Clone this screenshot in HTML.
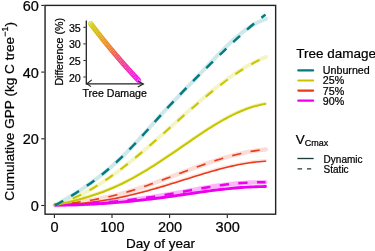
<!DOCTYPE html>
<html><head><meta charset="utf-8">
<style>
html,body{margin:0;padding:0;background:#fff;}
body{width:375px;height:251px;overflow:hidden;}
svg{display:block;will-change:transform;}
text{font-family:'Liberation Sans',sans-serif;fill:#000;stroke:#000;stroke-width:0.22px;}
</style></head>
<body>
<svg width="375" height="251" viewBox="0 0 375 251">
<rect width="375" height="251" fill="#fff"/>
<!-- ribbons -->
<circle cx="54.9" cy="205.3" r="2.1" fill="#f9b4ac"/>
<g fill="none" stroke-linecap="round" stroke-linejoin="round" stroke-width="3.9">
<path d="M55.0,205.03 L58.0,204.97 L61.0,204.89 L64.0,204.80 L67.0,204.70 L70.0,204.59 L73.0,204.47 L76.0,204.33 L79.0,204.18 L82.0,204.03 L85.0,203.86 L88.0,203.67 L91.0,203.48 L94.0,203.28 L97.0,203.06 L100.0,202.83 L103.0,202.59 L106.0,202.34 L109.0,202.07 L112.0,201.80 L115.0,201.51 L118.0,201.21 L121.0,200.90 L124.0,200.57 L127.0,200.23 L130.0,199.88 L133.0,199.52 L136.0,199.15 L139.0,198.77 L142.0,198.37 L145.0,197.96 L148.0,197.54 L151.0,197.10 L154.0,196.65 L157.0,196.19 L160.0,195.72 L163.0,195.24 L166.0,194.74 L169.0,194.23 L172.0,193.71 L175.0,193.18 L178.0,192.64 L181.0,192.09 L184.0,191.54 L187.0,190.98 L190.0,190.43 L193.0,189.87 L196.0,189.33 L199.0,188.78 L202.0,188.25 L205.0,187.73 L208.0,187.22 L211.0,186.73 L214.0,186.25 L217.0,185.79 L220.0,185.36 L223.0,184.95 L226.0,184.56 L229.0,184.21 L232.0,183.88 L235.0,183.58 L238.0,183.31 L241.0,183.07 L244.0,182.86 L247.0,182.68 L250.0,182.53 L253.0,182.41 L256.0,182.33 L259.0,182.27 L262.0,182.25 L265.0,182.27 L265.5,182.27" stroke="#fbb6fb" stroke-width="4.4"/>
<path d="M55.0,204.97 L58.0,204.64 L61.0,204.31 L64.0,203.96 L67.0,203.60 L70.0,203.23 L73.0,202.85 L76.0,202.45 L79.0,202.04 L82.0,201.60 L85.0,201.15 L88.0,200.68 L91.0,200.19 L94.0,199.67 L97.0,199.12 L100.0,198.55 L103.0,197.96 L106.0,197.33 L109.0,196.67 L112.0,195.99 L115.0,195.26 L118.0,194.51 L121.0,193.71 L124.0,192.88 L127.0,192.02 L130.0,191.12 L133.0,190.20 L136.0,189.24 L139.0,188.26 L142.0,187.26 L145.0,186.23 L148.0,185.18 L151.0,184.12 L154.0,183.04 L157.0,181.94 L160.0,180.83 L163.0,179.71 L166.0,178.59 L169.0,177.46 L172.0,176.32 L175.0,175.18 L178.0,174.05 L181.0,172.91 L184.0,171.78 L187.0,170.65 L190.0,169.53 L193.0,168.43 L196.0,167.33 L199.0,166.24 L202.0,165.17 L205.0,164.12 L208.0,163.08 L211.0,162.07 L214.0,161.08 L217.0,160.11 L220.0,159.17 L223.0,158.26 L226.0,157.38 L229.0,156.53 L232.0,155.71 L235.0,154.93 L238.0,154.18 L241.0,153.48 L244.0,152.82 L247.0,152.20 L250.0,151.62 L253.0,151.09 L256.0,150.62 L259.0,150.19 L262.0,149.81 L265.0,149.49 L266.0,149.40" stroke="#fcdcd6" stroke-width="4.3"/>
<path d="M55.0,204.99 L58.0,204.89 L61.0,204.76 L64.0,204.61 L67.0,204.44 L70.0,204.25 L73.0,204.03 L76.0,203.79 L79.0,203.53 L82.0,203.24 L85.0,202.93 L88.0,202.59 L91.0,202.23 L94.0,201.85 L97.0,201.44 L100.0,201.00 L103.0,200.54 L106.0,200.06 L109.0,199.55 L112.0,199.01 L115.0,198.45 L118.0,197.86 L121.0,197.25 L124.0,196.61 L127.0,195.94 L130.0,195.25 L133.0,194.54 L136.0,193.81 L139.0,193.05 L142.0,192.28 L145.0,191.48 L148.0,190.67 L151.0,189.84 L154.0,188.99 L157.0,188.13 L160.0,187.25 L163.0,186.36 L166.0,185.46 L169.0,184.54 L172.0,183.61 L175.0,182.68 L178.0,181.74 L181.0,180.79 L184.0,179.84 L187.0,178.89 L190.0,177.95 L193.0,177.00 L196.0,176.07 L199.0,175.14 L202.0,174.22 L205.0,173.32 L208.0,172.43 L211.0,171.55 L214.0,170.70 L217.0,169.87 L220.0,169.06 L223.0,168.28 L226.0,167.52 L229.0,166.80 L232.0,166.11 L235.0,165.45 L238.0,164.83 L241.0,164.25 L244.0,163.71 L247.0,163.21 L250.0,162.76 L253.0,162.36 L256.0,162.01 L259.0,161.71 L262.0,161.46 L265.0,161.27 L265.5,161.24" stroke="#fde3de" stroke-width="2.6" transform="translate(0,-0.9)"/>
<path d="M55.0,204.47 L58.0,203.66 L61.0,202.77 L64.0,201.78 L67.0,200.71 L70.0,199.55 L73.0,198.31 L76.0,196.99 L79.0,195.59 L82.0,194.12 L85.0,192.57 L88.0,190.95 L91.0,189.26 L94.0,187.51 L97.0,185.69 L100.0,183.81 L103.0,181.86 L106.0,179.86 L109.0,177.81 L112.0,175.70 L115.0,173.54 L118.0,171.33 L121.0,169.07 L124.0,166.77 L127.0,164.43 L130.0,162.05 L133.0,159.63 L136.0,157.17 L139.0,154.69 L142.0,152.17 L145.0,149.62 L148.0,147.05 L151.0,144.45 L154.0,141.83 L157.0,139.19 L160.0,136.53 L163.0,133.86 L166.0,131.17 L169.0,128.48 L172.0,125.78 L175.0,123.08 L178.0,120.39 L181.0,117.69 L184.0,115.01 L187.0,112.33 L190.0,109.67 L193.0,107.03 L196.0,104.41 L199.0,101.81 L202.0,99.24 L205.0,96.70 L208.0,94.19 L211.0,91.72 L214.0,89.30 L217.0,86.91 L220.0,84.58 L223.0,82.29 L226.0,80.06 L229.0,77.88 L232.0,75.77 L235.0,73.72 L238.0,71.73 L241.0,69.82 L244.0,67.98 L247.0,66.21 L250.0,64.53 L253.0,62.93 L256.0,61.41 L259.0,59.99 L262.0,58.65 L265.0,57.42 L266.0,57.03" stroke="#f5f5c4"/>
<path d="M55.0,204.98 L58.0,204.39 L61.0,203.78 L64.0,203.14 L67.0,202.48 L70.0,201.79 L73.0,201.07 L76.0,200.32 L79.0,199.53 L82.0,198.71 L85.0,197.86 L88.0,196.97 L91.0,196.04 L94.0,195.07 L97.0,194.06 L100.0,193.00 L103.0,191.90 L106.0,190.75 L109.0,189.55 L112.0,188.30 L115.0,187.00 L118.0,185.65 L121.0,184.24 L124.0,182.77 L127.0,181.25 L130.0,179.68 L133.0,178.07 L136.0,176.40 L139.0,174.69 L142.0,172.94 L145.0,171.15 L148.0,169.32 L151.0,167.46 L154.0,165.57 L157.0,163.65 L160.0,161.69 L163.0,159.72 L166.0,157.72 L169.0,155.70 L172.0,153.66 L175.0,151.60 L178.0,149.54 L181.0,147.47 L184.0,145.39 L187.0,143.32 L190.0,141.26 L193.0,139.20 L196.0,137.16 L199.0,135.14 L202.0,133.15 L205.0,131.18 L208.0,129.24 L211.0,127.34 L214.0,125.47 L217.0,123.66 L220.0,121.89 L223.0,120.17 L226.0,118.51 L229.0,116.91 L232.0,115.38 L235.0,113.91 L238.0,112.53 L241.0,111.21 L244.0,109.98 L247.0,108.84 L250.0,107.79 L253.0,106.83 L256.0,105.97 L259.0,105.22 L262.0,104.57 L265.0,104.04 L265.3,103.99" stroke="#f3f3b8" stroke-width="2.6" transform="translate(0,-0.9)"/>
<path d="M55.0,205.43 L58.0,203.73 L61.0,202.01 L64.0,200.26 L67.0,198.49 L70.0,196.68 L73.0,194.84 L76.0,192.96 L79.0,191.03 L82.0,189.06 L85.0,187.05 L88.0,184.98 L91.0,182.85 L94.0,180.67 L97.0,178.42 L100.0,176.11 L103.0,173.74 L106.0,171.29 L109.0,168.76 L112.0,166.16 L115.0,163.48 L118.0,160.72 L121.0,157.89 L124.0,154.99 L127.0,152.01 L130.0,148.97 L133.0,145.86 L136.0,142.68 L139.0,139.44 L142.0,136.14 L145.0,132.79 L148.0,129.41 L151.0,126.01 L154.0,122.61 L157.0,119.24 L160.0,115.90 L163.0,112.62 L166.0,109.38 L169.0,106.19 L172.0,103.03 L175.0,99.89 L178.0,96.78 L181.0,93.68 L184.0,90.58 L187.0,87.48 L190.0,84.38 L193.0,81.25 L196.0,78.11 L199.0,74.94 L202.0,71.75 L205.0,68.56 L208.0,65.37 L211.0,62.20 L214.0,59.05 L217.0,55.94 L220.0,52.87 L223.0,49.85 L226.0,46.89 L229.0,44.01 L232.0,41.22 L235.0,38.52 L238.0,35.93 L241.0,33.46 L244.0,31.12 L247.0,28.92 L250.0,26.88 L253.0,25.00 L256.0,23.29 L259.0,21.76 L262.0,20.42 L265.0,19.26 L266.0,18.92" stroke="#cfe8ea"/>
</g>
<!-- lines -->
<g fill="none" stroke-linejoin="round">
<path d="M55.0,204.99 L58.0,204.89 L61.0,204.76 L64.0,204.61 L67.0,204.44 L70.0,204.25 L73.0,204.03 L76.0,203.79 L79.0,203.53 L82.0,203.24 L85.0,202.93 L88.0,202.59 L91.0,202.23 L94.0,201.85 L97.0,201.44 L100.0,201.00 L103.0,200.54 L106.0,200.06 L109.0,199.55 L112.0,199.01 L115.0,198.45 L118.0,197.86 L121.0,197.25 L124.0,196.61 L127.0,195.94 L130.0,195.25 L133.0,194.54 L136.0,193.81 L139.0,193.05 L142.0,192.28 L145.0,191.48 L148.0,190.67 L151.0,189.84 L154.0,188.99 L157.0,188.13 L160.0,187.25 L163.0,186.36 L166.0,185.46 L169.0,184.54 L172.0,183.61 L175.0,182.68 L178.0,181.74 L181.0,180.79 L184.0,179.84 L187.0,178.89 L190.0,177.95 L193.0,177.00 L196.0,176.07 L199.0,175.14 L202.0,174.22 L205.0,173.32 L208.0,172.43 L211.0,171.55 L214.0,170.70 L217.0,169.87 L220.0,169.06 L223.0,168.28 L226.0,167.52 L229.0,166.80 L232.0,166.11 L235.0,165.45 L238.0,164.83 L241.0,164.25 L244.0,163.71 L247.0,163.21 L250.0,162.76 L253.0,162.36 L256.0,162.01 L259.0,161.71 L262.0,161.46 L265.0,161.27 L265.5,161.24" stroke="#ea3a1a" stroke-width="1.6" stroke-linecap="round"/>
<path d="M55.0,204.97 L58.0,204.64 L61.0,204.31 L64.0,203.96 L67.0,203.60 L70.0,203.23 L73.0,202.85 L76.0,202.45 L79.0,202.04 L82.0,201.60 L85.0,201.15 L88.0,200.68 L91.0,200.19 L94.0,199.67 L97.0,199.12 L100.0,198.55 L103.0,197.96 L106.0,197.33 L109.0,196.67 L112.0,195.99 L115.0,195.26 L118.0,194.51 L121.0,193.71 L124.0,192.88 L127.0,192.02 L130.0,191.12 L133.0,190.20 L136.0,189.24 L139.0,188.26 L142.0,187.26 L145.0,186.23 L148.0,185.18 L151.0,184.12 L154.0,183.04 L157.0,181.94 L160.0,180.83 L163.0,179.71 L166.0,178.59 L169.0,177.46 L172.0,176.32 L175.0,175.18 L178.0,174.05 L181.0,172.91 L184.0,171.78 L187.0,170.65 L190.0,169.53 L193.0,168.43 L196.0,167.33 L199.0,166.24 L202.0,165.17 L205.0,164.12 L208.0,163.08 L211.0,162.07 L214.0,161.08 L217.0,160.11 L220.0,159.17 L223.0,158.26 L226.0,157.38 L229.0,156.53 L232.0,155.71 L235.0,154.93 L238.0,154.18 L241.0,153.48 L244.0,152.82 L247.0,152.20 L250.0,151.62 L253.0,151.09 L256.0,150.62 L259.0,150.19 L262.0,149.81 L265.0,149.49 L266.0,149.40" stroke="#ea3a1a" stroke-width="1.6" stroke-dasharray="9.3 9.38" stroke-dashoffset="2.1"/>
<path d="M55.0,205.00 L58.0,205.00 L61.0,204.98 L64.0,204.95 L67.0,204.91 L70.0,204.86 L73.0,204.79 L76.0,204.71 L79.0,204.62 L82.0,204.51 L85.0,204.40 L88.0,204.27 L91.0,204.13 L94.0,203.97 L97.0,203.81 L100.0,203.63 L103.0,203.44 L106.0,203.24 L109.0,203.03 L112.0,202.81 L115.0,202.58 L118.0,202.33 L121.0,202.08 L124.0,201.82 L127.0,201.54 L130.0,201.25 L133.0,200.96 L136.0,200.65 L139.0,200.34 L142.0,200.01 L145.0,199.68 L148.0,199.33 L151.0,198.98 L154.0,198.61 L157.0,198.24 L160.0,197.86 L163.0,197.47 L166.0,197.07 L169.0,196.66 L172.0,196.24 L175.0,195.82 L178.0,195.39 L181.0,194.95 L184.0,194.52 L187.0,194.08 L190.0,193.64 L193.0,193.20 L196.0,192.76 L199.0,192.33 L202.0,191.91 L205.0,191.49 L208.0,191.08 L211.0,190.68 L214.0,190.29 L217.0,189.92 L220.0,189.55 L223.0,189.21 L226.0,188.88 L229.0,188.57 L232.0,188.28 L235.0,188.01 L238.0,187.76 L241.0,187.53 L244.0,187.33 L247.0,187.15 L250.0,186.99 L253.0,186.85 L256.0,186.74 L259.0,186.66 L262.0,186.60 L265.0,186.57 L265.5,186.57" stroke="#ee00ee" stroke-width="2.9" stroke-linecap="round"/>
<path d="M55.0,205.03 L58.0,204.97 L61.0,204.89 L64.0,204.80 L67.0,204.70 L70.0,204.59 L73.0,204.47 L76.0,204.33 L79.0,204.18 L82.0,204.03 L85.0,203.86 L88.0,203.67 L91.0,203.48 L94.0,203.28 L97.0,203.06 L100.0,202.83 L103.0,202.59 L106.0,202.34 L109.0,202.07 L112.0,201.80 L115.0,201.51 L118.0,201.21 L121.0,200.90 L124.0,200.57 L127.0,200.23 L130.0,199.88 L133.0,199.52 L136.0,199.15 L139.0,198.77 L142.0,198.37 L145.0,197.96 L148.0,197.54 L151.0,197.10 L154.0,196.65 L157.0,196.19 L160.0,195.72 L163.0,195.24 L166.0,194.74 L169.0,194.23 L172.0,193.71 L175.0,193.18 L178.0,192.64 L181.0,192.09 L184.0,191.54 L187.0,190.98 L190.0,190.43 L193.0,189.87 L196.0,189.33 L199.0,188.78 L202.0,188.25 L205.0,187.73 L208.0,187.22 L211.0,186.73 L214.0,186.25 L217.0,185.79 L220.0,185.36 L223.0,184.95 L226.0,184.56 L229.0,184.21 L232.0,183.88 L235.0,183.58 L238.0,183.31 L241.0,183.07 L244.0,182.86 L247.0,182.68 L250.0,182.53 L253.0,182.41 L256.0,182.33 L259.0,182.27 L262.0,182.25 L265.0,182.27 L265.5,182.27" stroke="#ee00ee" stroke-width="2.4" stroke-dasharray="9.3 9.38" stroke-dashoffset="2.0"/>
<path d="M55.0,204.98 L58.0,204.39 L61.0,203.78 L64.0,203.14 L67.0,202.48 L70.0,201.79 L73.0,201.07 L76.0,200.32 L79.0,199.53 L82.0,198.71 L85.0,197.86 L88.0,196.97 L91.0,196.04 L94.0,195.07 L97.0,194.06 L100.0,193.00 L103.0,191.90 L106.0,190.75 L109.0,189.55 L112.0,188.30 L115.0,187.00 L118.0,185.65 L121.0,184.24 L124.0,182.77 L127.0,181.25 L130.0,179.68 L133.0,178.07 L136.0,176.40 L139.0,174.69 L142.0,172.94 L145.0,171.15 L148.0,169.32 L151.0,167.46 L154.0,165.57 L157.0,163.65 L160.0,161.69 L163.0,159.72 L166.0,157.72 L169.0,155.70 L172.0,153.66 L175.0,151.60 L178.0,149.54 L181.0,147.47 L184.0,145.39 L187.0,143.32 L190.0,141.26 L193.0,139.20 L196.0,137.16 L199.0,135.14 L202.0,133.15 L205.0,131.18 L208.0,129.24 L211.0,127.34 L214.0,125.47 L217.0,123.66 L220.0,121.89 L223.0,120.17 L226.0,118.51 L229.0,116.91 L232.0,115.38 L235.0,113.91 L238.0,112.53 L241.0,111.21 L244.0,109.98 L247.0,108.84 L250.0,107.79 L253.0,106.83 L256.0,105.97 L259.0,105.22 L262.0,104.57 L265.0,104.04 L265.3,103.99" stroke="#c6c600" stroke-width="2.1" stroke-linecap="round"/>
<path d="M55.0,204.41 L58.0,203.64 L61.0,202.76 L64.0,201.79 L67.0,200.74 L70.0,199.59 L73.0,198.36 L76.0,197.04 L79.0,195.65 L82.0,194.17 L85.0,192.62 L88.0,191.00 L91.0,189.30 L94.0,187.54 L97.0,185.71 L100.0,183.82 L103.0,181.87 L106.0,179.86 L109.0,177.79 L112.0,175.67 L115.0,173.50 L118.0,171.28 L121.0,169.02 L124.0,166.71 L127.0,164.36 L130.0,161.98 L133.0,159.56 L136.0,157.10 L139.0,154.61 L142.0,152.10 L145.0,149.56 L148.0,146.99 L151.0,144.41 L154.0,141.81 L157.0,139.19 L160.0,136.55 L163.0,133.91 L166.0,131.26 L169.0,128.60 L172.0,125.94 L175.0,123.29 L178.0,120.63 L181.0,117.98 L184.0,115.34 L187.0,112.71 L190.0,110.09 L193.0,107.49 L196.0,104.91 L199.0,102.35 L202.0,99.82 L205.0,97.31 L208.0,94.84 L211.0,92.40 L214.0,89.99 L217.0,87.63 L220.0,85.30 L223.0,83.02 L226.0,80.79 L229.0,78.60 L232.0,76.47 L235.0,74.40 L238.0,72.38 L241.0,70.43 L244.0,68.53 L247.0,66.71 L250.0,64.95 L253.0,63.27 L256.0,61.66 L259.0,60.12 L262.0,58.67 L265.0,57.30 L266.0,56.87" stroke="#c6c600" stroke-width="2.05" stroke-dasharray="9.3 9.38"/>
<path d="M55.0,205.41 L58.0,203.71 L61.0,202.00 L64.0,200.25 L67.0,198.49 L70.0,196.68 L73.0,194.85 L76.0,192.97 L79.0,191.05 L82.0,189.09 L85.0,187.08 L88.0,185.01 L91.0,182.89 L94.0,180.71 L97.0,178.46 L100.0,176.14 L103.0,173.76 L106.0,171.30 L109.0,168.76 L112.0,166.14 L115.0,163.44 L118.0,160.67 L121.0,157.82 L124.0,154.90 L127.0,151.91 L130.0,148.86 L133.0,145.75 L136.0,142.59 L139.0,139.37 L142.0,136.10 L145.0,132.80 L148.0,129.46 L151.0,126.11 L154.0,122.76 L157.0,119.41 L160.0,116.08 L163.0,112.78 L166.0,109.50 L169.0,106.26 L172.0,103.04 L175.0,99.85 L178.0,96.69 L181.0,93.55 L184.0,90.44 L187.0,87.35 L190.0,84.28 L193.0,81.23 L196.0,78.21 L199.0,75.20 L202.0,72.22 L205.0,69.25 L208.0,66.30 L211.0,63.36 L214.0,60.44 L217.0,57.54 L220.0,54.65 L223.0,51.77 L226.0,48.91 L229.0,46.06 L232.0,43.24 L235.0,40.44 L238.0,37.67 L241.0,34.94 L244.0,32.25 L247.0,29.61 L250.0,27.01 L253.0,24.48 L256.0,22.00 L259.0,19.59 L262.0,17.25 L265.0,14.98 L265.5,14.61" stroke="#007b82" stroke-width="2.45" stroke-dasharray="9.3 9.38"/>
</g>
<!-- panel border -->
<rect x="45.05" y="5.4" width="230.6" height="208.8" fill="none" stroke="#222" stroke-width="1.4"/>
<!-- ticks -->
<g stroke="#222" stroke-width="1.1">
<line x1="41.3" x2="44.4" y1="5.4" y2="5.4"/>
<line x1="41.3" x2="44.4" y1="72.1" y2="72.1"/>
<line x1="41.3" x2="44.4" y1="138.8" y2="138.8"/>
<line x1="41.3" x2="44.4" y1="205.5" y2="205.5"/>
<line y1="214.9" y2="217.9" x1="54.4" x2="54.4"/>
<line y1="214.9" y2="217.9" x1="112" x2="112"/>
<line y1="214.9" y2="217.9" x1="169.6" x2="169.6"/>
<line y1="214.9" y2="217.9" x1="227.3" x2="227.3"/>
</g>
<g font-size="14.5" text-anchor="end">
<text x="38.9" y="11.0">60</text>
<text x="38.9" y="77.7">40</text>
<text x="38.9" y="144.4">20</text>
<text x="38.9" y="211.1">0</text>
</g>
<g font-size="14.5" text-anchor="middle">
<text x="54.6" y="231.8">0</text>
<text x="112.4" y="231.8">100</text>
<text x="170" y="231.8">200</text>
<text x="227.7" y="231.8">300</text>
</g>
<text x="160.6" y="247.6" font-size="13.5" text-anchor="middle">Day of year</text>
<text transform="translate(14.3,200.7) rotate(-90)" font-size="13.62">Cumulative GPP (kg C tree<tspan font-size="9" dy="-6.0">−1</tspan><tspan dy="6.0">)</tspan></text>

<!-- inset -->
<g>
<circle cx="90.80" cy="23.80" r="2.35" fill="#cdcd00" fill-opacity="0.3" stroke="#cdcd00" stroke-opacity="0.85" stroke-width="0.9"/>
<circle cx="91.94" cy="25.31" r="2.35" fill="#cfc900" fill-opacity="0.3" stroke="#cfc900" stroke-opacity="0.85" stroke-width="0.9"/>
<circle cx="93.09" cy="26.82" r="2.35" fill="#d1c500" fill-opacity="0.3" stroke="#d1c500" stroke-opacity="0.85" stroke-width="0.9"/>
<circle cx="94.24" cy="28.32" r="2.35" fill="#d3c100" fill-opacity="0.3" stroke="#d3c100" stroke-opacity="0.85" stroke-width="0.9"/>
<circle cx="95.40" cy="29.82" r="2.35" fill="#d5bd00" fill-opacity="0.3" stroke="#d5bd00" stroke-opacity="0.85" stroke-width="0.9"/>
<circle cx="96.56" cy="31.32" r="2.35" fill="#d6b900" fill-opacity="0.3" stroke="#d6b900" stroke-opacity="0.85" stroke-width="0.9"/>
<circle cx="97.73" cy="32.81" r="2.35" fill="#d8b500" fill-opacity="0.3" stroke="#d8b500" stroke-opacity="0.85" stroke-width="0.9"/>
<circle cx="98.89" cy="34.30" r="2.35" fill="#dbaf03" fill-opacity="0.3" stroke="#dbaf03" stroke-opacity="0.85" stroke-width="0.9"/>
<circle cx="100.07" cy="35.79" r="2.35" fill="#dea906" fill-opacity="0.3" stroke="#dea906" stroke-opacity="0.85" stroke-width="0.9"/>
<circle cx="101.24" cy="37.27" r="2.35" fill="#e1a309" fill-opacity="0.3" stroke="#e1a309" stroke-opacity="0.85" stroke-width="0.9"/>
<circle cx="102.42" cy="38.75" r="2.35" fill="#e39c0b" fill-opacity="0.3" stroke="#e39c0b" stroke-opacity="0.85" stroke-width="0.9"/>
<circle cx="103.61" cy="40.23" r="2.35" fill="#e6960e" fill-opacity="0.3" stroke="#e6960e" stroke-opacity="0.85" stroke-width="0.9"/>
<circle cx="104.80" cy="41.70" r="2.35" fill="#e89011" fill-opacity="0.3" stroke="#e89011" stroke-opacity="0.85" stroke-width="0.9"/>
<circle cx="105.99" cy="43.17" r="2.35" fill="#e98a14" fill-opacity="0.3" stroke="#e98a14" stroke-opacity="0.85" stroke-width="0.9"/>
<circle cx="107.18" cy="44.64" r="2.35" fill="#ea8518" fill-opacity="0.3" stroke="#ea8518" stroke-opacity="0.85" stroke-width="0.9"/>
<circle cx="108.38" cy="46.10" r="2.35" fill="#eb7f1b" fill-opacity="0.3" stroke="#eb7f1b" stroke-opacity="0.85" stroke-width="0.9"/>
<circle cx="109.59" cy="47.56" r="2.35" fill="#ec791f" fill-opacity="0.3" stroke="#ec791f" stroke-opacity="0.85" stroke-width="0.9"/>
<circle cx="110.80" cy="49.02" r="2.35" fill="#ed7322" fill-opacity="0.3" stroke="#ed7322" stroke-opacity="0.85" stroke-width="0.9"/>
<circle cx="112.01" cy="50.47" r="2.35" fill="#ee6c29" fill-opacity="0.3" stroke="#ee6c29" stroke-opacity="0.85" stroke-width="0.9"/>
<circle cx="113.23" cy="51.92" r="2.35" fill="#ef6434" fill-opacity="0.3" stroke="#ef6434" stroke-opacity="0.85" stroke-width="0.9"/>
<circle cx="114.45" cy="53.37" r="2.35" fill="#ef5b3f" fill-opacity="0.3" stroke="#ef5b3f" stroke-opacity="0.85" stroke-width="0.9"/>
<circle cx="115.67" cy="54.81" r="2.35" fill="#ef534a" fill-opacity="0.3" stroke="#ef534a" stroke-opacity="0.85" stroke-width="0.9"/>
<circle cx="116.90" cy="56.25" r="2.35" fill="#f04a55" fill-opacity="0.3" stroke="#f04a55" stroke-opacity="0.85" stroke-width="0.9"/>
<circle cx="118.13" cy="57.69" r="2.35" fill="#f04460" fill-opacity="0.3" stroke="#f04460" stroke-opacity="0.85" stroke-width="0.9"/>
<circle cx="119.37" cy="59.12" r="2.35" fill="#f13f6a" fill-opacity="0.3" stroke="#f13f6a" stroke-opacity="0.85" stroke-width="0.9"/>
<circle cx="120.61" cy="60.55" r="2.35" fill="#f13a74" fill-opacity="0.3" stroke="#f13a74" stroke-opacity="0.85" stroke-width="0.9"/>
<circle cx="121.85" cy="61.97" r="2.35" fill="#f2357f" fill-opacity="0.3" stroke="#f2357f" stroke-opacity="0.85" stroke-width="0.9"/>
<circle cx="123.10" cy="63.40" r="2.35" fill="#f23089" fill-opacity="0.3" stroke="#f23089" stroke-opacity="0.85" stroke-width="0.9"/>
<circle cx="124.36" cy="64.81" r="2.35" fill="#f22a93" fill-opacity="0.3" stroke="#f22a93" stroke-opacity="0.85" stroke-width="0.9"/>
<circle cx="125.61" cy="66.23" r="2.35" fill="#f3259d" fill-opacity="0.3" stroke="#f3259d" stroke-opacity="0.85" stroke-width="0.9"/>
<circle cx="126.87" cy="67.64" r="2.35" fill="#f321a7" fill-opacity="0.3" stroke="#f321a7" stroke-opacity="0.85" stroke-width="0.9"/>
<circle cx="128.14" cy="69.05" r="2.35" fill="#f31eaf" fill-opacity="0.3" stroke="#f31eaf" stroke-opacity="0.85" stroke-width="0.9"/>
<circle cx="129.41" cy="70.46" r="2.35" fill="#f41ab8" fill-opacity="0.3" stroke="#f41ab8" stroke-opacity="0.85" stroke-width="0.9"/>
<circle cx="130.68" cy="71.86" r="2.35" fill="#f416c1" fill-opacity="0.3" stroke="#f416c1" stroke-opacity="0.85" stroke-width="0.9"/>
<circle cx="131.96" cy="73.26" r="2.35" fill="#f412c9" fill-opacity="0.3" stroke="#f412c9" stroke-opacity="0.85" stroke-width="0.9"/>
<circle cx="133.24" cy="74.65" r="2.35" fill="#f40fd2" fill-opacity="0.3" stroke="#f40fd2" stroke-opacity="0.85" stroke-width="0.9"/>
<circle cx="134.52" cy="76.04" r="2.35" fill="#f40bdb" fill-opacity="0.3" stroke="#f40bdb" stroke-opacity="0.85" stroke-width="0.9"/>
<circle cx="135.81" cy="77.43" r="2.35" fill="#f507e4" fill-opacity="0.3" stroke="#f507e4" stroke-opacity="0.85" stroke-width="0.9"/>
<circle cx="137.10" cy="78.82" r="2.35" fill="#f504ec" fill-opacity="0.3" stroke="#f504ec" stroke-opacity="0.85" stroke-width="0.9"/>
<circle cx="138.40" cy="80.20" r="2.35" fill="#f500f5" fill-opacity="0.3" stroke="#f500f5" stroke-opacity="0.85" stroke-width="0.9"/>
</g>
<g stroke="#222" stroke-width="1.3" fill="none">
<line x1="86.3" x2="86.3" y1="20.4" y2="84.4"/>
<line x1="86.3" x2="143.3" y1="83.8" y2="83.8"/>
<polyline points="91.8,79.9 86.9,83.8 91.0,86.6" stroke-width="1.1"/>
<polyline points="137.8,80.9 143.4,83.9 137.8,87.0" stroke-width="1.1"/>
<g stroke-width="1">
<line x1="83.4" x2="85.7" y1="27.3" y2="27.3"/>
<line x1="83.4" x2="85.7" y1="43.9" y2="43.9"/>
<line x1="83.4" x2="85.7" y1="60.5" y2="60.5"/>
<line x1="83.4" x2="85.7" y1="77.0" y2="77.0"/>
</g>
</g>
<g font-size="10.7" text-anchor="end">
<text x="80.8" y="31.8">35</text>
<text x="80.8" y="48.4">30</text>
<text x="80.8" y="65.0">25</text>
<text x="80.8" y="81.5">20</text>
</g>
<text x="82.5" y="96.6" font-size="10.6">Tree Damage</text>
<text transform="translate(63.2,85.6) rotate(-90)" font-size="10.6">Difference (%)</text>

<!-- legends -->
<text x="296.2" y="58.1" font-size="13.5">Tree damage</text>
<g stroke-width="2.2" fill="none" stroke-linecap="round">
<line x1="298.3" x2="313.1" y1="70.4" y2="70.4" stroke="#007b82"/>
<line x1="298.3" x2="313.1" y1="80.5" y2="80.5" stroke="#c6c600"/>
<line x1="298.3" x2="313.1" y1="90.6" y2="90.6" stroke="#ea3a1a"/>
<line x1="298.3" x2="313.1" y1="100.7" y2="100.7" stroke="#ee00ee"/>
</g>
<g font-size="10.7">
<text x="322.8" y="74.3">Unburned</text>
<text x="322.8" y="84.4">25%</text>
<text x="322.8" y="94.6">75%</text>
<text x="322.8" y="104.8">90%</text>
</g>
<text x="295.8" y="143.5" font-size="13.5">V<tspan font-size="9" dy="2.6">Cmax</tspan></text>
<g stroke="#1f3d3d" stroke-width="1.35" fill="none">
<line x1="297.4" x2="313.6" y1="158.5" y2="158.5"/>
<line x1="297.5" x2="313.6" y1="168.8" y2="168.8" stroke-dasharray="4.6 4.9 4.2 10"/>
</g>
<g font-size="10">
<text x="323.6" y="163.0">Dynamic</text>
<text x="323.6" y="173.2">Static</text>
</g>
</svg>
</body></html>
